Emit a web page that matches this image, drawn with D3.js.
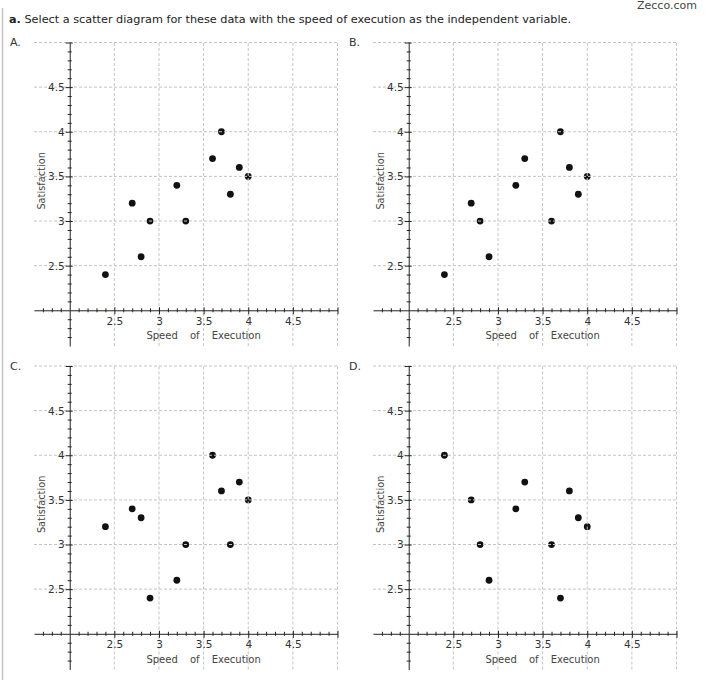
<!DOCTYPE html>
<html>
<head>
<meta charset="utf-8">
<script src="https://cdn.jsdelivr.net/npm/d3@7"></script>
<style>
  body { margin: 0; background: #fff; }
  svg { display: block; }
</style>
</head>
<body>
<svg width="712" height="680"></svg>
<script>
// speed of execution is the same for every option, only satisfaction changes
const speed = [2.4, 2.7, 2.8, 2.9, 3.2, 3.3, 3.6, 3.7, 3.8, 3.9, 4.0];
const satisfactionA = [2.4, 3.2, 2.6, 3.0, 3.4, 3.0, 3.7, 4.0, 3.3, 3.6, 3.5];
const satisfactionB = [2.4, 3.2, 3.0, 2.6, 3.4, 3.7, 3.0, 4.0, 3.6, 3.3, 3.5];
const satisfactionC = [3.2, 3.4, 3.3, 2.4, 2.6, 3.0, 4.0, 3.6, 3.0, 3.7, 3.5];
const satisfactionD = [4.0, 3.5, 3.0, 2.6, 3.4, 3.7, 3.0, 2.4, 3.6, 3.3, 3.2];
const optionLabels = ["A.", "B.", "C.", "D."];
const majorTicks = [2.5, 3, 3.5, 4, 4.5];
const gridValues = [2.5, 3, 3.5, 4, 4.5, 5];

const svg = d3.select("svg");
const font = "DejaVu Sans, Verdana, sans-serif";

// page border + header
svg.append("line")
  .attr("x1", 2.5).attr("x2", 2.5).attr("y1", 8).attr("y2", 680)
  .attr("stroke", "#c4c4c4").attr("stroke-width", 1.5);

svg.append("text")
  .attr("x", 637).attr("y", 9)
  .attr("font-family", font).attr("font-size", 11)
  .attr("fill", "#444")
  .text("Zecco.com");

const title = svg.append("text")
  .attr("x", 9).attr("y", 23)
  .attr("font-family", font).attr("font-size", 11.25)
  .attr("fill", "#222");
title.append("tspan").attr("font-weight", "bold").text("a.");
title.append("tspan").text(" Select a scatter diagram for these data with the speed of execution as the independent variable.");

const options = [satisfactionA, satisfactionB, satisfactionC, satisfactionD];
const offsets = [[0, 0], [339, 0], [0, 323.5], [339, 323.5]];

const x = d3.scaleLinear().domain([1.6, 5.0]).range([34, 337.5]);
const y = d3.scaleLinear().domain([1.6, 5.0]).range([346, 42.5]);

const minor = d3.range(17, 50).map(d => d / 10).filter(d => d !== 2 && !majorTicks.includes(d));

options.forEach((sat, i) => {
  const g = svg.append("g")
    .attr("transform", `translate(${offsets[i][0]},${offsets[i][1]})`);

  g.append("text")
    .attr("x", 10).attr("y", 46)
    .attr("font-family", font).attr("font-size", 11)
    .attr("fill", "#333")
    .text(optionLabels[i]);

  // points (grid goes on top, as in the original)
  g.selectAll("circle")
    .data(speed.map((s, k) => ({ x: s, y: sat[k] })))
    .enter()
    .append("circle")
    .attr("cx", d => x(d.x))
    .attr("cy", d => y(d.y))
    .attr("r", 3.4)
    .attr("fill", "#111");

  // dotted grid
  const grid = g.append("g")
    .attr("stroke", "#c4c4c4")
    .attr("stroke-dasharray", "3,2");
  grid.selectAll(".h").data(gridValues).enter().append("line")
    .attr("x1", x(1.6)).attr("x2", x(5.0))
    .attr("y1", d => y(d)).attr("y2", d => y(d));
  grid.selectAll(".v").data(gridValues).enter().append("line")
    .attr("y1", y(1.6)).attr("y2", y(5.0))
    .attr("x1", d => x(d)).attr("x2", d => x(d));

  // x axis
  const xMinor = g.append("g")
    .attr("transform", `translate(0,${y(2)})`)
    .call(d3.axisBottom(x).tickValues(minor).tickSize(2).tickSizeOuter(0).tickFormat(""));
  xMinor.selectAll(".tick line").attr("y1", -2);

  const xMajor = g.append("g")
    .attr("transform", `translate(0,${y(2)})`)
    .call(d3.axisBottom(x).tickValues(majorTicks.concat([5])).tickSize(3).tickSizeOuter(0)
      .tickFormat(d => d === 5 ? "" : d));
  xMajor.select(".domain").remove();
  xMajor.selectAll(".tick line").attr("y1", -3).attr("y2", 4);
  xMajor.selectAll(".tick text")
    .attr("y", 7)
    .attr("font-family", font).attr("font-size", 10.5)
    .attr("fill", "#333");

  // y axis
  const yMinor = g.append("g")
    .attr("transform", `translate(${x(2)},0)`)
    .call(d3.axisLeft(y).tickValues(minor).tickSize(2).tickSizeOuter(0).tickFormat(""));
  yMinor.selectAll(".tick line").attr("x1", 2);

  const yMajor = g.append("g")
    .attr("transform", `translate(${x(2)},0)`)
    .call(d3.axisLeft(y).tickValues(majorTicks.concat([5])).tickSize(3).tickSizeOuter(0)
      .tickFormat(d => d === 5 ? "" : d));
  yMajor.select(".domain").remove();
  yMajor.selectAll(".tick line").attr("x1", 3).attr("x2", -4);
  yMajor.selectAll(".tick text")
    .attr("x", -5)
    .attr("font-family", font).attr("font-size", 10.5)
    .attr("fill", "#333");

  g.selectAll(".domain, .tick line").attr("stroke", "#222");

  // axis titles
  g.append("text")
    .attr("x", x(3.5)).attr("y", 339)
    .attr("text-anchor", "middle")
    .attr("font-family", font).attr("font-size", 10)
    .attr("word-spacing", 9)
    .attr("fill", "#444")
    .text("Speed of Execution");

  g.append("text")
    .attr("transform", `translate(45,${y(3.45)}) rotate(-90)`)
    .attr("text-anchor", "middle")
    .attr("font-family", font).attr("font-size", 9.8)
    .attr("fill", "#444")
    .text("Satisfaction");
});
</script>
</body>
</html>
